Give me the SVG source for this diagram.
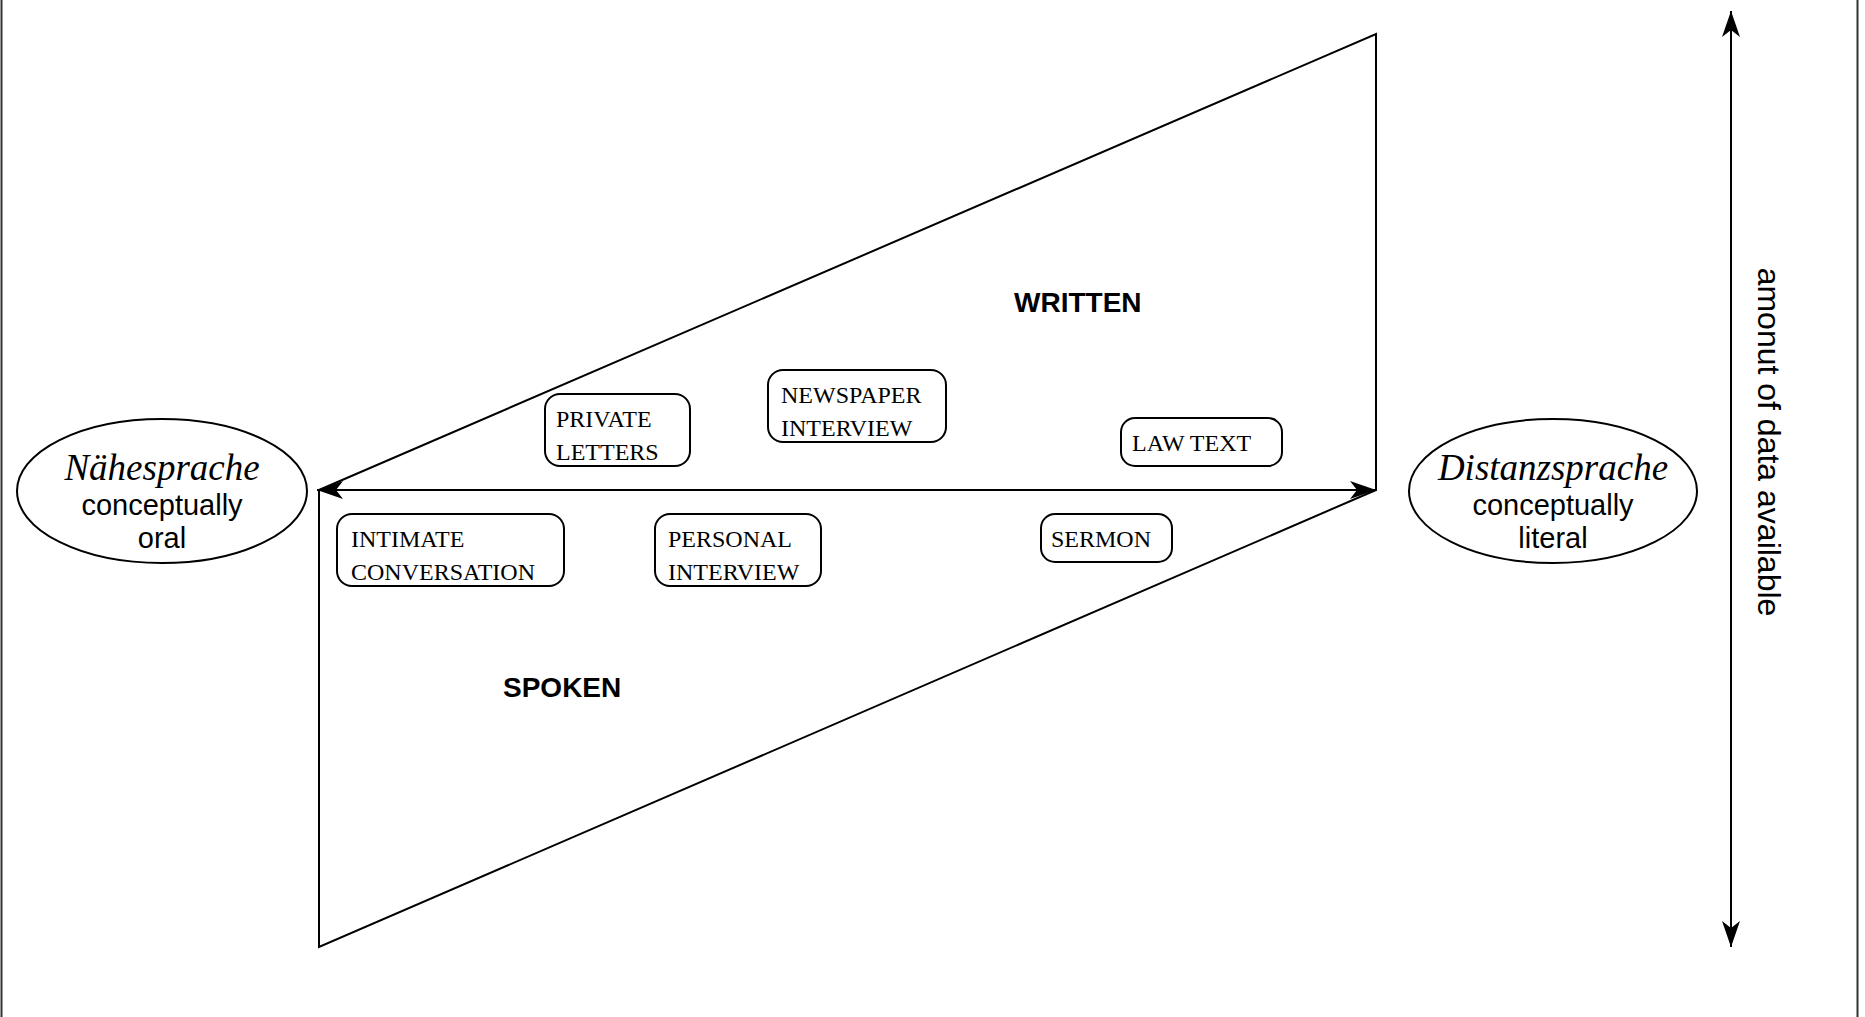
<svg xmlns="http://www.w3.org/2000/svg" width="1865" height="1017" viewBox="0 0 1865 1017">
<style>
.ln{fill:none;stroke:#000;stroke-width:2}
.box{fill:#fff;stroke:#000;stroke-width:2}
.bt{font-family:"Liberation Serif",serif;font-size:24px;fill:#000}
.it{font-family:"Liberation Serif",serif;font-style:italic;font-size:37px;fill:#000;text-anchor:middle}
.st{font-family:"Liberation Sans",sans-serif;font-size:29px;fill:#000;text-anchor:middle}
.lb{font-family:"Liberation Sans",sans-serif;font-size:28px;font-weight:bold;fill:#000}
.vt{font-family:"Liberation Sans",sans-serif;font-size:32px;fill:#000;text-anchor:middle}
</style>
<defs>
<marker id="ah" viewBox="0 0 26 18" refX="26" refY="9" markerWidth="26" markerHeight="18" markerUnits="userSpaceOnUse" orient="auto-start-reverse">
<path d="M0,0 L26,9 L0,18 L7,9 z" fill="#000"/>
</marker>
</defs>
<rect width="1865" height="1017" fill="#fff"/>
<g id="frame">
<line x1="1.5" y1="0" x2="1.5" y2="1017" stroke="#333" stroke-width="2"/>
<line x1="1857.5" y1="0" x2="1857.5" y2="1017" stroke="#333" stroke-width="2"/>
</g>
<g id="parallelogram">
<polygon class="ln" points="319,490 1376,34 1376,490 319,947"/>
</g>
<g id="connectors">
<line class="ln" x1="317" y1="490" x2="1376" y2="490" marker-start="url(#ah)" marker-end="url(#ah)"/>
<line class="ln" x1="1731" y1="11" x2="1731" y2="947" marker-start="url(#ah)" marker-end="url(#ah)"/>
</g>
<g id="naehesprache">
<ellipse class="box" cx="162" cy="491" rx="145" ry="72"/>
<text class="it" x="162" y="480">Nähesprache</text>
<text class="st" x="162" y="515">conceptually</text>
<text class="st" x="162" y="548">oral</text>
</g>
<g id="distanzsprache">
<ellipse class="box" cx="1553" cy="491" rx="144" ry="72"/>
<text class="it" x="1553" y="480">Distanzsprache</text>
<text class="st" x="1553" y="515">conceptually</text>
<text class="st" x="1553" y="548">literal</text>
</g>
<g id="written"><text class="lb" x="1014" y="312">WRITTEN</text></g>
<g id="spoken"><text class="lb" x="503" y="697">SPOKEN</text></g>
<g id="private-letters">
<rect class="box" x="545" y="394" width="145" height="72" rx="15"/>
<text class="bt" x="556" y="427">PRIVATE</text>
<text class="bt" x="556" y="460">LETTERS</text>
</g>
<g id="newspaper-interview">
<rect class="box" x="768" y="370" width="178" height="72" rx="15"/>
<text class="bt" x="781" y="403">NEWSPAPER</text>
<text class="bt" x="781" y="436">INTERVIEW</text>
</g>
<g id="law-text">
<rect class="box" x="1121" y="418" width="161" height="48" rx="14"/>
<text class="bt" x="1132" y="451">LAW TEXT</text>
</g>
<g id="intimate-conversation">
<rect class="box" x="337" y="514" width="227" height="72" rx="15"/>
<text class="bt" x="351" y="547">INTIMATE</text>
<text class="bt" x="351" y="580">CONVERSATION</text>
</g>
<g id="personal-interview">
<rect class="box" x="655" y="514" width="166" height="72" rx="15"/>
<text class="bt" x="668" y="547">PERSONAL</text>
<text class="bt" x="668" y="580">INTERVIEW</text>
</g>
<g id="sermon">
<rect class="box" x="1041" y="514" width="131" height="48" rx="14"/>
<text class="bt" x="1051" y="547">SERMON</text>
</g>
<g id="axis-label">
<text class="vt" transform="translate(1758,442) rotate(90)">amonut of data available</text>
</g>
</svg>
